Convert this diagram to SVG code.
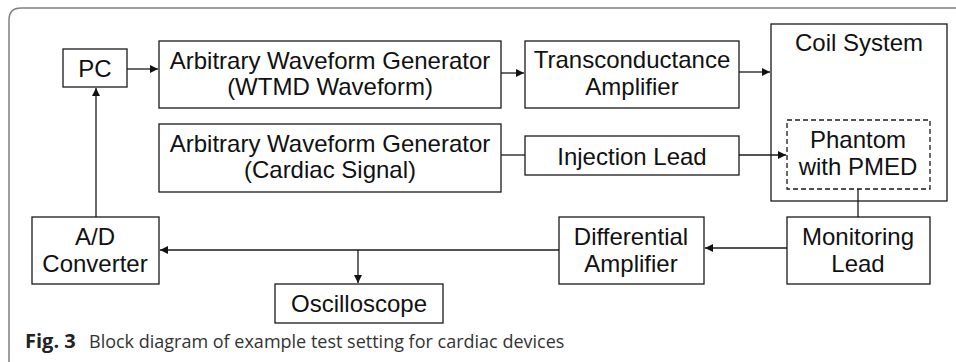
<svg xmlns="http://www.w3.org/2000/svg" width="956" height="362" viewBox="0 0 956 362">
<style>
.box{fill:#fff;stroke:#1a1a1a;stroke-width:1.3}
.dash{fill:none;stroke:#1a1a1a;stroke-width:1.3;stroke-dasharray:5,3}
.t{font-family:"Liberation Sans",Arial,sans-serif;font-size:24px;fill:#111;text-anchor:middle}
.ln{fill:none;stroke:#1a1a1a;stroke-width:1.3}
.cap{font-family:"Open Sans","Noto Sans",sans-serif;font-size:18px;fill:#333}
</style>
<defs>
<marker id="ah" viewBox="0 0 10 10" refX="10" refY="5" markerWidth="8" markerHeight="8" markerUnits="userSpaceOnUse" orient="auto">
<path d="M0,0 L10,5 L0,10 z" fill="#111"/>
</marker>
</defs>
<rect width="956" height="362" fill="#fff"/>
<path d="M9,362 L9,20 Q9,8 21,8 L956,8" fill="none" stroke="#808080" stroke-width="1.5"/>

<g id="pc"><rect class="box" x="63" y="49" width="64" height="38"/><text class="t" x="95" y="77">PC</text></g>
<g id="awg1"><rect class="box" x="159" y="41" width="342" height="67"/><text class="t" x="330" y="69">Arbitrary Waveform Generator</text><text class="t" x="330" y="95">(WTMD Waveform)</text></g>
<g id="awg2"><rect class="box" x="159" y="124" width="342" height="68"/><text class="t" x="330" y="152">Arbitrary Waveform Generator</text><text class="t" x="330" y="178">(Cardiac Signal)</text></g>
<g id="trans"><rect class="box" x="525" y="41" width="214" height="67"/><text class="t" x="632" y="68">Transconductance</text><text class="t" x="632" y="95">Amplifier</text></g>
<g id="coil"><rect class="box" x="771" y="24" width="176" height="177"/><text class="t" x="859" y="51">Coil System</text></g>
<g id="phantom"><rect class="dash" x="787" y="120" width="143" height="69"/><text class="t" x="858" y="148">Phantom</text><text class="t" x="858" y="175">with PMED</text></g>
<g id="injection"><rect class="box" x="525" y="136" width="214" height="39"/><text class="t" x="632" y="165">Injection Lead</text></g>
<g id="monitoring"><rect class="box" x="787" y="217" width="143" height="67"/><text class="t" x="858" y="245">Monitoring</text><text class="t" x="858" y="272">Lead</text></g>
<g id="diff"><rect class="box" x="559" y="217" width="145" height="67"/><text class="t" x="631" y="245">Differential</text><text class="t" x="631" y="272">Amplifier</text></g>
<g id="adc"><rect class="box" x="32" y="217" width="127" height="67"/><text class="t" x="95" y="245">A/D</text><text class="t" x="95" y="272">Converter</text></g>
<g id="osc"><rect class="box" x="275" y="284" width="168" height="39"/><text class="t" x="359" y="312">Oscilloscope</text></g>

<g id="connectors">
<line class="ln" x1="127" y1="69" x2="158" y2="69" marker-end="url(#ah)"/>
<line class="ln" x1="501" y1="73" x2="524" y2="73" marker-end="url(#ah)"/>
<line class="ln" x1="739" y1="72" x2="770" y2="72" marker-end="url(#ah)"/>
<line class="ln" x1="501" y1="155" x2="525" y2="155"/>
<line class="ln" x1="739" y1="155" x2="786" y2="155" marker-end="url(#ah)"/>
<line class="ln" x1="858" y1="189" x2="858" y2="217"/>
<line class="ln" x1="787" y1="248" x2="705" y2="248" marker-end="url(#ah)"/>
<line class="ln" x1="559" y1="250" x2="160" y2="250" marker-end="url(#ah)"/>
<line class="ln" x1="358" y1="250" x2="358" y2="283" marker-end="url(#ah)"/>
<line class="ln" x1="96" y1="217" x2="96" y2="88" marker-end="url(#ah)"/>
</g>

<text class="cap" x="25" y="348"><tspan font-weight="bold" font-size="20px" fill="#222">Fig. 3</tspan><tspan x="89">Block diagram of example test setting for cardiac devices</tspan></text>
</svg>
